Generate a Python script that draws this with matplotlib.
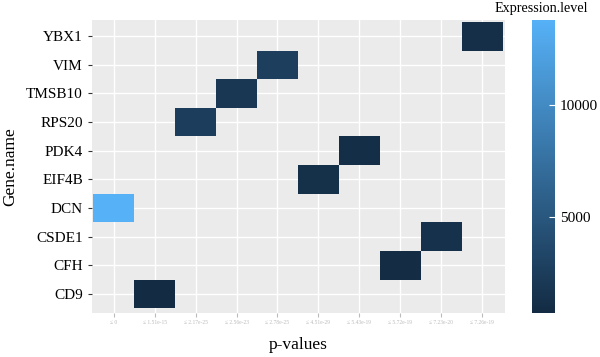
import numpy as np
import matplotlib
matplotlib.use("Agg")
from matplotlib import pyplot as plt
from matplotlib.colors import LinearSegmentedColormap

plt.rcParams["font.family"] = ["Liberation Serif", "DejaVu Serif"]

genes = ["CD9", "CFH", "CSDE1", "DCN", "EIF4B", "PDK4", "RPS20", "TMSB10", "VIM", "YBX1"]
pvals = ["1.51e-15", "5.72e-19", "7.23e-20", "0", "4.51e-29",
         "5.43e-19", "2.17e-25", "2.56e-23", "2.78e-25", "7.26e-19"]
expression = [720, 900, 1300, 13800, 1200, 1000, 2500, 1900, 2600, 1100]

# x categories in text order, like a factor
xcats = ["0", "1.51e-15", "2.17e-25", "2.56e-23", "2.78e-25",
         "4.51e-29", "5.43e-19", "5.72e-19", "7.23e-20", "7.26e-19"]
xlabels = ["\u2264 " + s for s in xcats]

grid = np.full((len(genes), len(xcats)), np.nan)
for g, p, e in zip(genes, pvals, expression):
    grid[genes.index(g), xcats.index(p)] = e

cmap = LinearSegmentedColormap.from_list("gg", ["#132B43", "#56B1F7"])
vmin, vmax = 700, 13800

fig = plt.figure(figsize=(6, 3.57), dpi=100)
ax = fig.add_axes([0.1533, 0.1232, 0.688, 0.821])
ax.set_facecolor("#EBEBEB")
ax.grid(True, color="white", linewidth=1.0)
ax.set_axisbelow(True)

xe = np.arange(len(xcats) + 1) - 0.5
ye = np.arange(len(genes) + 1) - 0.5
mesh = ax.pcolormesh(xe, ye, np.ma.masked_invalid(grid), cmap=cmap,
                     vmin=vmin, vmax=vmax, zorder=2)

ax.set_xlim(-0.53, 9.55)
ax.set_ylim(-0.67, 9.57)
ax.set_xticks(range(len(xcats)))
ax.set_xticklabels(xlabels, fontsize=4, color="#BBBBBB")
ax.set_yticks(range(len(genes)))
ax.set_yticklabels(genes, fontsize=11)
ax.tick_params(axis="both", length=3, color="#333333")
ax.tick_params(axis="x", color="#BBBBBB", pad=2)
for s in ax.spines.values():
    s.set_visible(False)

ax.set_xlabel("p-values", fontsize=12.5, labelpad=9)
ax.set_ylabel("Gene.name", fontsize=12.5, labelpad=6)

cax = fig.add_axes([0.887, 0.1232, 0.038, 0.821])
cb = fig.colorbar(mesh, cax=cax)
cb.set_ticks([5000, 10000])
cb.outline.set_visible(False)
cax.tick_params(length=4, color="white", labelsize=11, direction="in")
fig.text(0.825, 0.994, "Expression.level", ha="left", va="top", fontsize=10.2)

fig.savefig("out.png", dpi=100)
